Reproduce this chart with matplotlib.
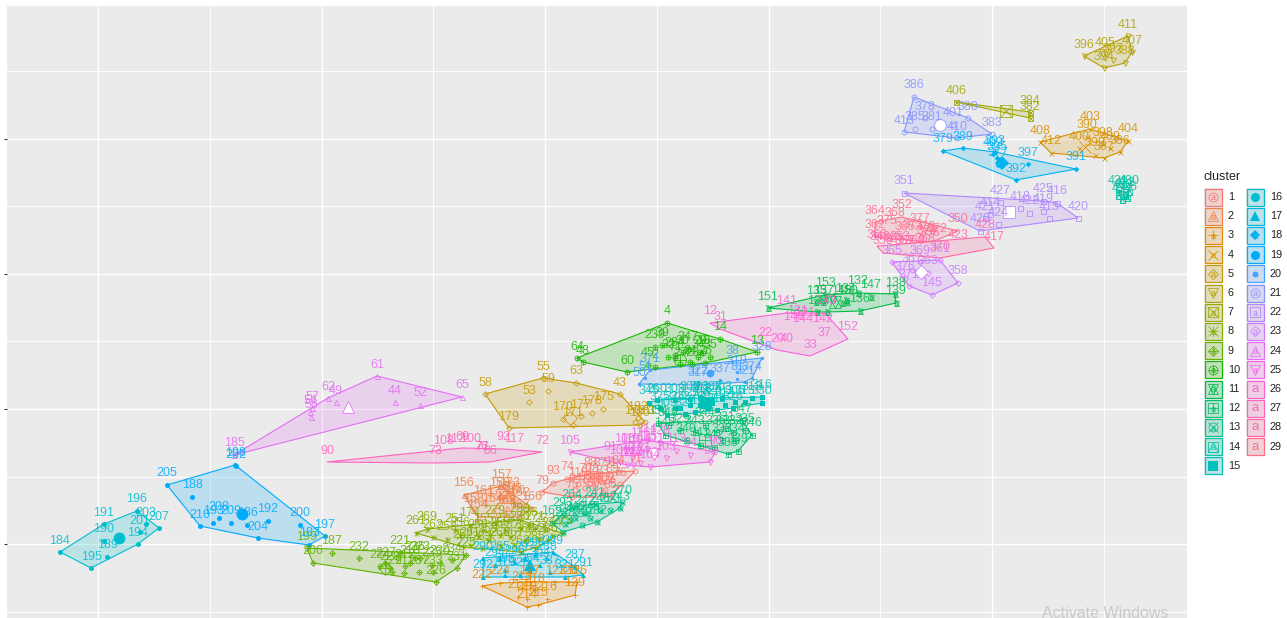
import math
import matplotlib
matplotlib.use("Agg")
import matplotlib.pyplot as plt
from matplotlib.patches import Rectangle, Polygon

W, H = 1287, 618
plt.rcParams['font.family'] = ['Liberation Sans', 'DejaVu Sans']

# (id, x, y), y axis runs downwards as in the picture
C01 = [(79,542,492),(93,553,483),(74,567,479),(118,578,484),(88,590,474),(87,600,474),(91,610,474),(84,618,472),
       (70,585,480),(78,592,480),(83,602,482),(89,612,480),(94,575,490),(95,585,488),(98,595,488),(102,605,490),
       (75,572,497),(80,593,495),(82,603,492),(71,635,471),(85,610,497),(76,620,484)]
C02 = [(157,501,486),(173,509,495),(156,464,495),(158,473,510),(161,484,502),(164,493,510),(154,478,517),(162,520,504),
       (166,532,508),(167,520,517),(159,500,495),(163,505,498),(165,512,500),(160,515,503),(168,505,512),(171,507,508),(172,497,505)]
C03 = [(222,482,586),(224,500,583),(127,530,582),(123,555,582),(120,568,582),(126,577,582),(129,575,595),(216,547,599),
       (217,518,597),(214,527,607),(215,538,605),(219,527,599),(218,535,590),(213,522,588)]
C04 = [(408,1040,142),(412,1051,153),(403,1090,129),(390,1087,137),(400,1079,148),(398,1103,144),(409,1110,148),
       (404,1128,141),(399,1095,155),(387,1104,158),(386,1120,152)]
C05 = [(58,485,394),(55,543,378),(53,529,402),(59,548,391),(179,509,428),(63,576,383),(43,620,394),(175,603,409),
       (178,592,413),(177,581,416),(170,563,419),(182,638,418),(180,640,425),(181,645,422),(176,635,422),(171,573,425)]
C06 = [(396,1084,56),(405,1105,54),(411,1128,36),(407,1132,52),(394,1104,68),(388,1125,63),(397,1113,60)]
C07 = [(406,956,102),(384,1030,112),(382,1030,118)]
C08 = [(261,416,533),(269,427,529),(262,433,537),(174,470,525),(155,483,530),(256,460,535),(253,447,539),(252,463,547),
       (251,455,530),(263,520,552),(255,500,535),(257,510,537),(258,478,536),(259,488,540),(266,500,545),(267,514,545),
       (268,525,540),(271,535,528),(272,545,530),(274,552,535),(275,562,533),(276,528,525),(277,538,538),(278,505,530),
       (279,495,523),(280,520,528),(281,470,545),(283,482,548),(285,535,548),(286,548,540),(289,520,520)]
C09 = [(206,313,563),(199,307,548),(187,332,553),(232,359,558),(221,400,553),(236,415,558),(226,436,582),(224,380,566),
       (227,386,564),(228,390,568),(229,392,572),(212,405,566),(218,410,563),(211,404,573),(237,419,572),(233,433,572),
       (223,420,558),(235,432,565),(230,440,563),(234,452,560),(231,457,568),(225,466,555)]
C10 = [(4,667,323),(64,577,358),(48,583,362),(60,627,372),(239,655,347),(39,662,345),(45,648,365),(2,655,367),(284,675,355),
       (247,688,349),(10,703,353),(71,675,358),(13,757,352),(14,720,339),(24,690,362),(26,705,363),(27,680,364),(28,692,364),
       (29,700,352),(30,683,352),(32,668,357),(34,698,357),(35,710,357)]
C11 = [(151,768,308),(153,825,295),(134,846,300),(132,858,293),(147,871,297),(138,895,294),(139,896,303),(136,860,311),
       (135,816,302),(130,817,312),(137,823,302),(140,827,312),(148,842,303),(150,847,302)]
C12 = [(149,665,435),(346,752,435),(347,742,420),(338,728,454),(339,738,451),(341,700,445),(342,714,447),(333,722,440),
       (334,735,440),(335,745,430),(336,716,432),(343,695,432),(344,705,425),(329,680,430),(331,725,428),(332,733,432),
       (349,668,425),(354,658,423),(340,686,440)]
C13 = [(264,572,507),(293,563,515),(241,595,504),(270,622,502),(243,620,508),(169,552,523),(273,563,532),(282,597,522),
       (240,575,518),(242,585,513),(244,570,520),(245,590,518),(246,600,510),(248,565,524),(249,582,525),(250,610,510)]
C14 = [(430,1129,192),(431,1118,192),(432,1125,194),(433,1123,196),(434,1122,200),(426,1127,198)]
C15 = [(345,649,403),(260,657,400),(308,675,400),(316,762,397),(313,752,398),(330,762,403),(309,667,415),(311,717,410),
       (300,690,399),(301,700,398),(302,712,399),(303,722,398),(305,735,402),(306,700,405),(307,708,408),(310,695,412),
       (312,680,408),(314,725,405),(315,745,402),(318,702,400),(320,712,403),(323,690,405),(324,675,408),(325,660,408),
       (326,733,408),(327,685,414)]
C16 = [(184,60,552),(191,104,524),(196,137,511),(203,146,524),(201,140,532),(207,159,528),(190,104,541),(194,138,544),
       (189,107,557),(195,91,568)]
C17 = [(290,483,558),(265,500,558),(287,575,567),(291,583,575),(292,483,577),(294,495,565),(295,505,570),(296,515,562),
       (297,525,558),(298,535,555),(299,553,552),(288,547,558),(304,540,565),(254,530,570),(319,505,575),(328,520,575),
       (337,550,572),(321,565,577)]
C18 = [(379,943,151),(389,963,148),(397,1028,164),(391,1076,169),(392,1016,180),(393,995,152),(402,993,154),(395,997,158),
       (377,998,165)]
C19 = [(205,167,485),(188,192,497),(198,235,465),(202,236,466),(193,213,523),(208,219,518),(209,231,523),(210,200,526),
       (186,247,525),(204,258,538),(192,268,521),(200,300,525),(197,325,536),(183,309,545)]
C20 = [(51,645,378),(50,639,384),(322,698,382),(317,698,385),(321,745,382),(319,737,372),(38,732,362),(337,720,380),
       (81,737,379),(328,762,358),(374,752,378),(371,650,370)]
C21 = [(386,914,97),(378,925,118),(385,915,129),(381,932,129),(401,953,125),(380,968,118),(410,957,138),(383,992,134),
       (413,904,132)]
C22 = [(351,904,193),(427,1000,202),(425,1043,201),(418,1020,208),(416,1057,203),(420,1078,218),(415,1049,218),
       (429,980,231),(414,990,214),(424,998,224),(419,1043,211),(422,1029,213),(421,985,218)]
C23 = [(358,958,283),(145,932,295),(371,909,286),(376,905,279),(365,892,262),(361,940,260),(363,928,273),(367,912,270),
       (369,920,262)]
C24 = [(61,377,376),(62,328,398),(49,336,402),(57,312,408),(54,310,412),(56,311,417),(44,395,402),(52,420,405),
       (65,462,397),(185,234,455)]
C25 = [(105,570,452),(99,710,462),(114,647,440),(104,650,467),(103,666,458),(113,676,451),(94,690,455),(91,610,459),
       (106,625,450),(107,632,458),(109,640,452),(101,620,462),(115,647,449),(116,640,445),(119,630,450),(111,655,450),
       (122,633,465),(124,640,463),(125,627,465),(128,660,443),(96,715,452)]
C26 = [(12,710,323),(31,720,329),(141,787,313),(131,798,322),(121,805,324),(144,803,330),(142,823,330),(146,794,329),
       (143,825,313),(37,824,345),(152,848,339),(33,810,356),(22,765,345),(20,777,350),(40,787,350)]
C27 = [(90,327,462),(73,435,463),(108,443,452),(69,462,448),(112,455,451),(100,471,451),(77,482,458),(86,490,462),
       (92,503,449),(117,514,450),(72,542,452),(76,481,459)]
C28 = [(348,880,248),(355,895,250),(359,883,253),(357,905,252),(353,900,248),(360,915,252),(368,925,250),(370,940,258),
       (366,877,246),(428,985,237),(417,994,248),(423,958,247),(356,930,245)]
C29 = [(352,902,217),(368,895,225),(373,913,236),(375,887,233),(372,937,240),(350,958,231),(362,875,237),(364,875,222),
       (377,920,230),(378,925,238),(365,905,238),(374,927,242)]
CLUSTERS = [C01,C02,C03,C04,C05,C06,C07,C08,C09,C10,C11,C12,C13,C14,C15,C16,C17,C18,C19,C20,C21,C22,C23,C24,C25,C26,C27,C28,C29]

# cluster centres (large marker)
CENTER_X = [590,507,530,1085,570,1105,1006,490,385,680,835,705,580,1122,706,119,530,1002,242,710,940,1009,921,348,654,None,None,None,None]
CENTER_Y = [480,497,585,147,418,55,111,535,568,360,302,440,510,193,403,538,565,163,514,373,125,212,272,407,454,None,None,None,None]

MARKERS = [['o'],['^'],['+'],['x'],['D'],['v'],['s','x'],['+','x'],['D','+'],['o','+'],['^','v'],['s','+'],['o','x'],['s','^'],
           ['s*'],['o*'],['^*'],['D*'],['o*'],['.*'],['o'],['s'],['D'],['^'],['v'],[],[],[],[]]
LEG_COL1 = list(range(1, 16))
LEG_COL2 = list(range(16, 30))


def hcl(h, c=100, l=65):
    hr = math.radians(h)
    u, v = c*math.cos(hr), c*math.sin(hr)
    y = ((l+16)/116)**3
    up = u/(13*l)+0.1978398
    vp = v/(13*l)+0.4683363
    x = 9*y*up/(4*vp)
    z = -x/3-5*y+3*y/vp
    rgb = (3.240479*x-1.53715*y-0.498535*z, -0.969256*x+1.875992*y+0.041556*z, 0.055648*x-0.204043*y+1.057311*z)
    def g(t):
        t = max(0, min(1, t))
        return 12.92*t if t <= 0.0031308 else 1.055*t**(1/2.4)-0.055
    return tuple(g(t) for t in rgb)


COLORS = [hcl(15+360*i/29) for i in range(29)]


def hull(pts):
    pts = sorted(set(pts))
    def half(seq):
        out = []
        for p in seq:
            while len(out) >= 2 and (out[-1][0]-out[-2][0])*(p[1]-out[-2][1])-(out[-1][1]-out[-2][1])*(p[0]-out[-2][0]) <= 0:
                out.pop()
            out.append(p)
        return out[:-1]
    return half(pts)+half(pts[::-1])


def draw_marker(ax, x, y, spec, color, ms, white=False, zorder=3):
    for m in spec:
        filled = m.endswith('*')
        k = m[0]
        if k == '.':
            ax.plot(x, y, 'o', ms=ms*0.65, color=color, mew=0, ls='none', zorder=zorder)
        elif filled:
            ax.plot(x, y, k, ms=ms*(0.8 if k == 'D' else 1), color=color, mew=0, ls='none', zorder=zorder)
        else:
            face = 'white' if white else 'none'
            ax.plot(x, y, k, ms=ms*(0.8 if k == 'D' else 1), mfc=face, mec=color, mew=0.55, ls='none', zorder=zorder)


fig = plt.figure(figsize=(W/100, H/100), dpi=100, facecolor='white')
L, R, T, B = 7, 1187, 6, 618
ax = fig.add_axes([L/W, 1-B/H, (R-L)/W, (B-T)/H], facecolor='#EBEBEB')
ax.set_xlim(L, R)
ax.set_ylim(B, T)
for s in ax.spines.values():
    s.set_visible(False)
ax.set_xticks([98, 322, 545, 769, 992])
ax.set_xticks([210, 433, 657, 880, 1104], minor=True)
ax.set_yticks([139, 274, 409, 544])
ax.set_yticks([71, 206, 341, 477, 612], minor=True)
ax.tick_params(axis='y', which='major', length=2.5, width=0.8, color='#333333', labelleft=False, pad=0)
ax.tick_params(axis='x', which='major', length=0, labelbottom=False)
ax.tick_params(which='minor', length=0)
ax.grid(True, which='major', color='white', lw=1.0, zorder=0)
ax.grid(True, which='minor', color='white', lw=0.7, zorder=0)
ax.set_axisbelow(True)

for i, cl in enumerate(CLUSTERS):
    col = COLORS[i]
    xy = [(p[1], p[2]) for p in cl]
    ax.add_patch(Polygon(hull(xy), closed=True, fc=col+(0.2,), ec=col, lw=0.8, zorder=2))
    if MARKERS[i]:
        draw_marker(ax, [p[0] for p in xy], [p[1] for p in xy], MARKERS[i], col, 3.6)
        if CENTER_X[i] is not None:
            draw_marker(ax, [CENTER_X[i]], [CENTER_Y[i]], MARKERS[i], col, 8.5, white=i >= 20, zorder=4)
    for pid, x, y in cl:
        ax.text(x, y-11.5, str(pid), color=col, fontsize=9.0, alpha=0.85, ha='center', va='center', zorder=5, clip_on=True)

# legend, in figure pixels
lax = fig.add_axes([0, 0, 1, 1], facecolor='none')
lax.set_xlim(0, W)
lax.set_ylim(H, 0)
lax.axis('off')
lax.text(1203, 177, 'cluster', fontsize=9, ha='left', va='center', color='#222222')
for col_x, lab_x, ids in ((1204, 1228, LEG_COL1), (1246, 1270, LEG_COL2)):
    for row, cid in enumerate(ids):
        c = COLORS[cid-1]
        y0 = 188 + row*19.2
        lax.add_patch(Rectangle((col_x, y0), 18, 18, fc='#EBEBEB', ec='none'))
        lax.add_patch(Rectangle((col_x+0.5, y0+0.5), 17, 17, fc=c+(0.2,), ec=c, lw=0.9))
        cx, cy = col_x+9, y0+9
        if MARKERS[cid-1]:
            draw_marker(lax, [cx], [cy], MARKERS[cid-1], c, 6.5)
            lax.text(cx, cy+1, 'a', color=c, fontsize=6.5, ha='center', va='center')
        else:
            lax.text(cx, cy, 'a', color=c, fontsize=9.5, ha='center', va='center')
        lax.text(lab_x, cy, str(cid), fontsize=7.8, ha='left', va='center', color='#222222')

lax.text(1042, 614, 'Activate Windows', fontsize=11.5, color='#C9C9C9', ha='left', va='center')
fig.savefig('out.png', dpi=100)
